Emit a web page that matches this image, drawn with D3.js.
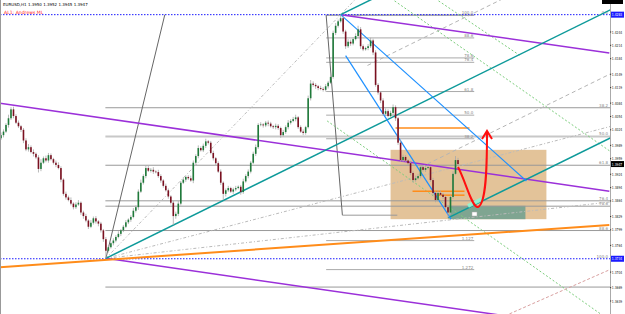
<!DOCTYPE html>
<html>
<head>
<meta charset="utf-8">
<script src="https://cdn.jsdelivr.net/npm/d3@7"></script>
<style>
  body { margin: 0; background: #fff; }
  svg { display: block; }
  text { font-family: "DejaVu Sans", sans-serif; }
</style>
</head>
<body>
<svg id="chart" width="625" height="314"></svg>
<script>
// EURUSD H1 — prices kept as the last four digits (3947 -> 1.3947)
const firstOpen = 4005;
const closes = [
  4012, 4020, 4035, 4050, 4070, 4055, 4040, 4032, 4024, 4000,
  3980, 3985, 3974, 3970, 3962, 3936, 3950, 3960, 3955, 3967,
  3958, 3950, 3945, 3938, 3912, 3880, 3872, 3866, 3858, 3850,
  3856, 3860, 3838, 3830, 3820, 3806, 3815, 3825, 3818, 3813,
  3798, 3778, 3752, 3760, 3769, 3775, 3783, 3790, 3798, 3806,
  3816, 3822, 3828, 3842, 3850, 3885, 3905, 3920, 3938, 3932,
  3934, 3930, 3929, 3920, 3910, 3898, 3888, 3874, 3860, 3830,
  3835, 3858, 3905, 3912, 3918, 3915, 3910, 3950, 3965, 3983,
  3978, 3988, 3998, 3995, 3972, 3960, 3949, 3930, 3905, 3880,
  3888, 3893, 3885, 3890, 3893, 3896, 3884, 3908, 3920, 3930,
  3950, 3970, 3985, 4035, 4036, 4034, 4040, 4038, 4032, 4030,
  4033, 4028, 4012, 4019, 4030, 4040, 4044, 4048, 4052, 4030,
  4020, 4017, 4030, 4095, 4128, 4125, 4122, 4118, 4116, 4114,
  4122, 4130, 4143, 4242, 4258, 4268, 4275, 4245, 4212, 4222,
  4218, 4228, 4235, 4250, 4212, 4205, 4208, 4212, 4225, 4198,
  4125, 4108, 4090, 4060, 4066, 4055, 4062, 4075, 4050, 3995,
  3956, 3963, 3955, 3949, 3927, 3911, 3915, 3920, 3940, 3934,
  3938, 3940, 3911, 3882, 3866, 3882, 3878, 3873, 3850, 3838,
  3873, 3925, 3956, 3947
];
// wick lengths in pips above the body / below the body
const upWick = [
  6,5,4,8,5,6,4,5,3,4, 5,7,4,6,3,5,8,4,6,5, 4,3,5,6,4,3,5,4,6,3,
  5,6,3,4,5,3,6,4,5,3, 4,3,5,4,3,5,4,6,3,4, 5,3,4,6,4,5,7,4,6,5,
  4,6,3,5,4,3,5,4,3,4, 5,6,4,5,3,4,6,5,4,6, 4,5,6,3,4,5,3,4,5,3,
  4,5,3,4,5,3,4,6,4,5, 4,5,6,4,5,3,4,5,4,3, 5,4,3,5,4,6,4,5,6,3,
  4,5,3,6,8,5,4,3,5,4, 5,4,6,5,6,4,8,5,4,6, 5,4,6,8,5,4,3,5,6,4,
  5,4,3,5,6,4,5,6,4,3, 6,5,4,3,5,4,6,5,4,3, 5,4,3,5,4,6,5,4,3,5,
  4,6,9,5
];
const dnWick = [
  4,5,3,6,4,5,3,4,5,6, 4,5,3,6,4,8,5,3,4,5, 3,4,5,3,6,4,5,3,4,5,
  4,3,5,6,4,5,3,4,5,6, 5,6,17,4,3,5,4,3,5,4, 3,4,5,3,4,6,3,4,5,3,
  4,5,3,4,5,4,3,5,4,20, 6,5,4,3,5,4,3,6,4,5, 3,4,5,4,3,5,4,3,5,14,
  6,4,3,5,4,3,6,4,3,5, 4,3,5,4,3,5,4,6,3,4, 5,4,6,3,4,5,4,3,5,4,
  3,5,4,3,5,4,6,5,3,4, 4,5,3,4,5,4,3,5,6,4, 5,4,3,5,6,4,3,5,4,6,
  4,5,6,4,5,3,4,5,6,5, 4,5,3,4,5,6,4,3,5,4, 5,3,4,6,5,4,3,5,4,12,
  5,4,3,4
];

// price axis labels (MT4 spacing)
const axisTicks = [1.4244, 1.4214, 1.4184, 1.4149, 1.4119, 1.4084, 1.4054, 1.4024,
  1.3989, 1.3959, 1.3924, 1.3894, 1.3864, 1.3829, 1.3799, 1.3764, 1.3704, 1.3669, 1.3639, 1.3604];
const hLines = [1.4283, 1.3734];          // blue dotted horizontal lines
const lastPrice = 1.3947;

// Andrews pitchfork anchors [bar, price]
const pitch = [[42, 1.3735], [136, 1.4283], [179, 1.3826]];
const pitchHalf = [0.25, 0.75];           // dashed inner lines

// Fibonacci 1: low -> high, rays to the right
const fib1Anchor = [[42, 1.3735], [65.6, 1.4283]];
const fib1Levels = [0.382, 0.5, 0.618, 0.764, 0.786, 0.886, 1.118];
const fib1Labels = ["38.2", "50.0", "61.8", "76.4", "78.6", "88.6", ""];
// Fibonacci 2: short block
const fib2Anchor = [[130.2, 1.4282], [136.7, 1.3832]];
const fib2End = 189.5;
const fib2Levels = [0, 0.114, 0.214, 0.236, 0.382, 0.5, 0.618, 1.127, 1.272];
const fib2Labels = ["100.0", "88.6", "78.6", "76.4", "61.8", "50.0", "38.2", "1.127", "1.272"];

// fan lines from the low through bar 136 at these prices
const fanPrices = [1.4283, 1.3873, 1.3794];

// other trend lines [bar1, price1, bar2, price2]
const purpleLines = [[-0.4, 1.4084, 243.6, 1.3886], [136, 1.4283, 243.6, 1.4197], [42, 1.3735, 243.6, 1.3572]];
const orangeTrend = [-0.4, 1.3715, 243.6, 1.3810];
const blueLines = [[136, 1.4283, 210.4, 1.3909], [138, 1.4191, 180.2, 1.3823]];
const greenDots = [[130.6, 1.4044, 243.6, 1.3596], [157.6, 1.4314, 243.6, 1.3977], [175.2, 1.4314, 207.6, 1.4192]];
const pinkDash = [203.6, 1.3610, 243.6, 1.3709];
const orangeLevels = [[158, 1.4028, 187.6, 1.4028], [164.8, 1.3886, 185.6, 1.3886], [174.4, 1.3877, 185.6, 1.3877]];
const boxTan = [156, 1.3979, 218.4, 1.3823];
const boxTeal = [179.6, 1.3853, 210, 1.3823];

const svg = d3.select("#chart");
const W = 610, H = 314;
const x = d3.scaleLinear().domain([0, closes.length - 1]).range([1, 458]);
const y = d3.scaleLinear().domain([1.3639, 1.4244]).range([301, 32]);
const P = v => 1 + v / 10000;

svg.append("clipPath").attr("id", "plot").append("rect")
  .attr("x", 0).attr("y", 0).attr("width", W).attr("height", H);
const plot = svg.append("g").attr("clip-path", "url(#plot)");

// boxes (background objects)
plot.append("rect").attr("x", x(boxTan[0])).attr("y", y(boxTan[1]))
  .attr("width", x(boxTan[2]) - x(boxTan[0])).attr("height", y(boxTan[3]) - y(boxTan[1]))
  .attr("fill", "#deb887").attr("opacity", 0.85);
plot.append("rect").attr("x", x(boxTeal[0])).attr("y", y(boxTeal[1]))
  .attr("width", x(boxTeal[2]) - x(boxTeal[0])).attr("height", y(boxTeal[3]) - y(boxTeal[1]))
  .attr("fill", "#7fa591");

function seg(g, a, color, width, dash) {
  return g.append("line")
    .attr("x1", x(a[0])).attr("y1", y(a[1])).attr("x2", x(a[2])).attr("y2", y(a[3]))
    .attr("stroke", color).attr("stroke-width", width)
    .attr("stroke-dasharray", dash || null);
}
// ray from point through point, carried to the right edge
function ray(g, b1, p1, b2, p2, color, width, dash) {
  const bEnd = x.invert(W + 40);
  const pEnd = p1 + (p2 - p1) * (bEnd - b1) / (b2 - b1);
  return seg(g, [b1, p1, bEnd, pEnd], color, width, dash);
}
function small(g, tx, ty, s, anchor, color) {
  return g.append("text").attr("x", tx).attr("y", ty).attr("text-anchor", anchor)
    .attr("font-size", 4).attr("fill", color || "#888").text(s);
}

// fibonacci 1
const f1lo = fib1Anchor[0][1], f1hi = fib1Anchor[1][1];
fib1Levels.forEach((l, k) => {
  const p = f1hi - l * (f1hi - f1lo);
  seg(plot, [fib1Anchor[0][0] - 0.2, p, x.invert(W), p], l === 0.5 ? "#c8c8c8" : "#999", l === 0.5 ? 2 : 1);
  small(plot, W - 2, y(p) - 1, fib1Labels[k], "end");
});
small(plot, W - 2, y(hLines[0]) - 1, "0.0", "end");
small(plot, W - 2, y(hLines[1]) - 1, "100.0", "end");
seg(plot, [fib1Anchor[0][0], f1lo, fib1Anchor[1][0], f1hi], "#666", 1);

// fibonacci 2
const f2hi = fib2Anchor[0][1], f2lo = fib2Anchor[1][1];
fib2Levels.forEach((l, k) => {
  const p = f2hi - l * (f2hi - f2lo);
  seg(plot, [fib2Anchor[0][0], p, fib2End, p], l === 0 ? "#777" : "#aaa", 1);
  small(plot, x(fib2End) - 1, y(p) - 1, fib2Labels[k], "end");
});
seg(plot, [fib2Anchor[0][0], f2hi, fib2Anchor[1][0], f2lo], "#666", 1);
seg(plot, [fib2Anchor[1][0], f2lo, fib2Anchor[1][0] + 22, f2lo], "#999", 1);

// horizontal blue dotted lines
hLines.forEach(p => seg(plot, [x.invert(0), p, x.invert(W), p], "#1a1aff", 1, "1.5,1.5"));

// fan lines from the low
fanPrices.forEach(p => ray(plot, pitch[0][0], pitch[0][1], pitch[1][0], p, "#bbb", 1, "3,2,1,2"));

// green dotted
greenDots.forEach(a => seg(plot, a, "#7ccd7c", 1, "2,2"));
seg(plot, pinkDash, "#d9a0a0", 1, "3,2");

// purple lines
purpleLines.forEach(a => seg(plot, a, "#9b30d9", 1.5));

// orange trend + levels
seg(plot, orangeTrend, "#ff8c1a", 2);
orangeLevels.forEach(a => seg(plot, a, "#ff8c1a", 1.5));

// Andrews pitchfork
const [A, B, C] = pitch;
const mid = [(B[0] + C[0]) / 2, (B[1] + C[1]) / 2];
const dB = (mid[0] - A[0]), dP = (mid[1] - A[1]);
ray(plot, A[0], A[1], mid[0], mid[1], "#0e9a9a", 1.5);
ray(plot, B[0], B[1], B[0] + dB, B[1] + dP, "#0e9a9a", 1.5);
ray(plot, C[0], C[1], C[0] + dB, C[1] + dP, "#0e9a9a", 1.5);
pitchHalf.forEach(t => {
  const sb = B[0] + t * (C[0] - B[0]), sp = B[1] + t * (C[1] - B[1]);
  ray(plot, sb, sp, sb + dB, sp + dP, "#b5b5b5", 1, "4,3");
});

// blue channel
blueLines.forEach(a => seg(plot, a, "#1e90ff", 1.2));

// candles
const candles = closes.map((c, i) => {
  const o = i === 0 ? firstOpen : closes[i - 1];
  return { i, o: P(o), c: P(c), h: P(Math.max(o, c) + upWick[i]), l: P(Math.min(o, c) - dnWick[i]) };
});
const cg = plot.append("g");
cg.selectAll("line.wick").data(candles).join("line").attr("class", "wick")
  .attr("x1", d => x(d.i)).attr("x2", d => x(d.i))
  .attr("y1", d => y(d.h)).attr("y2", d => y(d.l))
  .attr("stroke", "#a8a8a8").attr("stroke-width", 0.8);
cg.selectAll("rect").data(candles).join("rect")
  .attr("x", d => x(d.i) - 0.8).attr("width", 1.6)
  .attr("y", d => y(Math.max(d.o, d.c)))
  .attr("height", d => Math.max(0.6, Math.abs(y(d.o) - y(d.c))))
  .attr("fill", d => d.c >= d.o ? "#1f7a3a" : "#7a1020");

// highlight and red arrow
plot.append("line").attr("x1", 468).attr("y1", 206).attr("x2", 482).attr("y2", 199)
  .attr("stroke", "#8ff5d5").attr("stroke-width", 4).attr("opacity", 0.9);
plot.append("rect").attr("x", 472).attr("y", 212).attr("width", 5).attr("height", 4)
  .attr("fill", "#fff").attr("stroke", "#aaa").attr("stroke-width", 0.5);
plot.append("path")
  .attr("d", "M458,167 C466,182 472,208 478,207 C486,204 487,170 487,133")
  .attr("fill", "none").attr("stroke", "#ff1010").attr("stroke-width", 2);
plot.append("path").attr("d", "M482,139 L487,131 L492,139")
  .attr("fill", "none").attr("stroke", "#ff1010").attr("stroke-width", 2);

// frame and axis
svg.append("line").attr("x1", 0.5).attr("x2", 0.5).attr("y1", 0).attr("y2", H).attr("stroke", "#999");
svg.append("line").attr("x1", W + 0.5).attr("x2", W + 0.5).attr("y1", 0).attr("y2", H).attr("stroke", "#aaa");
const ax = svg.append("g");
function axisText(p, color) {
  return ax.append("text").attr("x", W + 1.8).attr("y", y(p) + 1.5).attr("font-size", 4)
    .attr("textLength", 10.4).attr("lengthAdjust", "spacingAndGlyphs")
    .attr("fill", color).text(p.toFixed(4));
}
axisTicks.filter(t => y(t) < H - 3).forEach(t => {
  ax.append("line").attr("x1", W).attr("x2", W + 1.2).attr("y1", y(t)).attr("y2", y(t)).attr("stroke", "#333");
  axisText(t, "#222");
});
function priceTag(p, bg) {
  ax.append("rect").attr("x", W + 1).attr("y", y(p) - 3).attr("width", 13).attr("height", 6).attr("fill", bg);
  axisText(p, "#fff");
}
hLines.forEach(p => priceTag(p, "#1a1aff"));
priceTag(lastPrice, "#000");
svg.append("rect").attr("x", 602).attr("y", 0).attr("width", 21).attr("height", 4).attr("fill", "#000");

// header
svg.append("text").attr("x", 3).attr("y", 6).attr("font-size", 4).attr("fill", "#000")
  .text("EURUSD,H1  1.3950 1.3952 1.3945 1.3947");
svg.append("text").attr("x", 4).attr("y", 14).attr("font-size", 4.6).attr("fill", "#ff2020")
  .text("AL1: Andrews ML");
</script>
</body>
</html>
